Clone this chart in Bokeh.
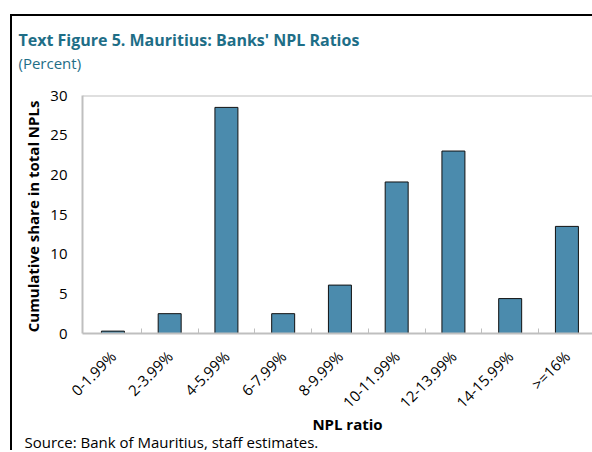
from bokeh.plotting import figure
from bokeh.models import Range1d, FixedTicker, Span, Title, ColumnDataSource
from bokeh.embed import file_html
from bokeh.resources import INLINE
from math import pi

# NPL ratio buckets and each bucket's share in total NPLs (percent)
categories = ["0-1.99%", "2-3.99%", "4-5.99%", "6-7.99%", "8-9.99%",
              "10-11.99%", "12-13.99%", "14-15.99%", ">=16%"]
shares = [0.3, 2.5, 28.5, 2.5, 6.1, 19.1, 23.0, 4.4, 13.5]
y_ticks = [0, 5, 10, 15, 20, 25, 30]

title_text = "Text Figure 5. Mauritius: Banks' NPL Ratios"
subtitle_text = "(Percent)"
source_text = "Source: Bank of Mauritius, staff estimates."

FONT = "Open Sans"
TEAL = "#1E6E87"
BAR = "#4B8BAD"
GRID = "#BFBFBF"

positions = list(range(len(categories)))
src = ColumnDataSource(dict(x=positions, share=shares))

# the figure sits inside a black frame drawn with CSS on its left/top edges;
# the panel runs on past the right edge of the page
p = figure(width=600, height=436, output_backend="svg", toolbar_location=None,
           x_range=Range1d(-0.536, 8.803), y_range=Range1d(0, 30),
           min_border_left=70, min_border_right=0,
           min_border_top=79, min_border_bottom=119)
p.margin = (14, 0, 0, 10)
p.styles = {"border-left": "2px solid black", "border-top": "2px solid black"}
p.outline_line_color = None
p.grid.visible = False
p.background_fill_color = "white"
p.border_fill_color = "white"

p.vbar(x="x", top="share", width=0.405, source=src,
       fill_color=BAR, line_color="#111111", line_width=1)

# x axis: labels at bucket centres, small inward ticks between buckets
xa = p.xaxis[0]
xa.ticker = FixedTicker(ticks=positions,
                        minor_ticks=[i + 0.5 for i in positions[:-1]])
xa.major_label_overrides = {i: c for i, c in zip(positions, categories)}
xa.major_label_orientation = pi / 4
xa.major_tick_in = 0
xa.major_tick_out = 0
xa.minor_tick_in = 5
xa.minor_tick_out = 0
xa.minor_tick_line_color = GRID
xa.axis_line_color = GRID
xa.axis_line_width = 2
xa.major_label_standoff = 20
xa.major_label_text_font = FONT
xa.major_label_text_font_size = "15px"
xa.major_label_text_color = "black"
xa.axis_label = "NPL ratio"
xa.axis_label_text_font = FONT
xa.axis_label_text_font_style = "bold"
xa.axis_label_text_font_size = "15px"
xa.axis_label_text_color = "black"
xa.axis_label_standoff = -8

ya = p.yaxis[0]
ya.ticker = FixedTicker(ticks=y_ticks)
ya.major_tick_in = 0
ya.major_tick_out = 0
ya.minor_tick_in = 0
ya.minor_tick_out = 0
ya.axis_line_color = GRID
ya.axis_line_width = 2
ya.major_label_standoff = 15
ya.major_label_text_font = FONT
ya.major_label_text_font_size = "15px"
ya.major_label_text_color = "black"
ya.axis_label = "Cumulative share  in total NPLs"
ya.axis_label_text_font = FONT
ya.axis_label_text_font_style = "bold"
ya.axis_label_text_font_size = "15px"
ya.axis_label_text_color = "black"
ya.axis_label_standoff = 4

# top edge of the plot area
p.add_layout(Span(location=30, dimension="width", line_color=GRID,
                  line_width=2))

# heading block (subtitle first so it sits nearest the plot)
p.add_layout(Title(text=subtitle_text, align="left", offset=-64,
                   text_font=FONT, text_font_style="normal",
                   text_font_size="15px", text_color=TEAL, standoff=46), "above")
p.add_layout(Title(text=title_text, align="left", offset=-64,
                   text_font=FONT, text_font_style="bold",
                   text_font_size="16px", text_color=TEAL, standoff=-47), "above")

# source note under the axis title
p.add_layout(Title(text=source_text, align="left", offset=-58,
                   text_font=FONT, text_font_style="normal",
                   text_font_size="15px", text_color="black", standoff=-14), "below")

open("out.html", "w").write(file_html(p, INLINE))
